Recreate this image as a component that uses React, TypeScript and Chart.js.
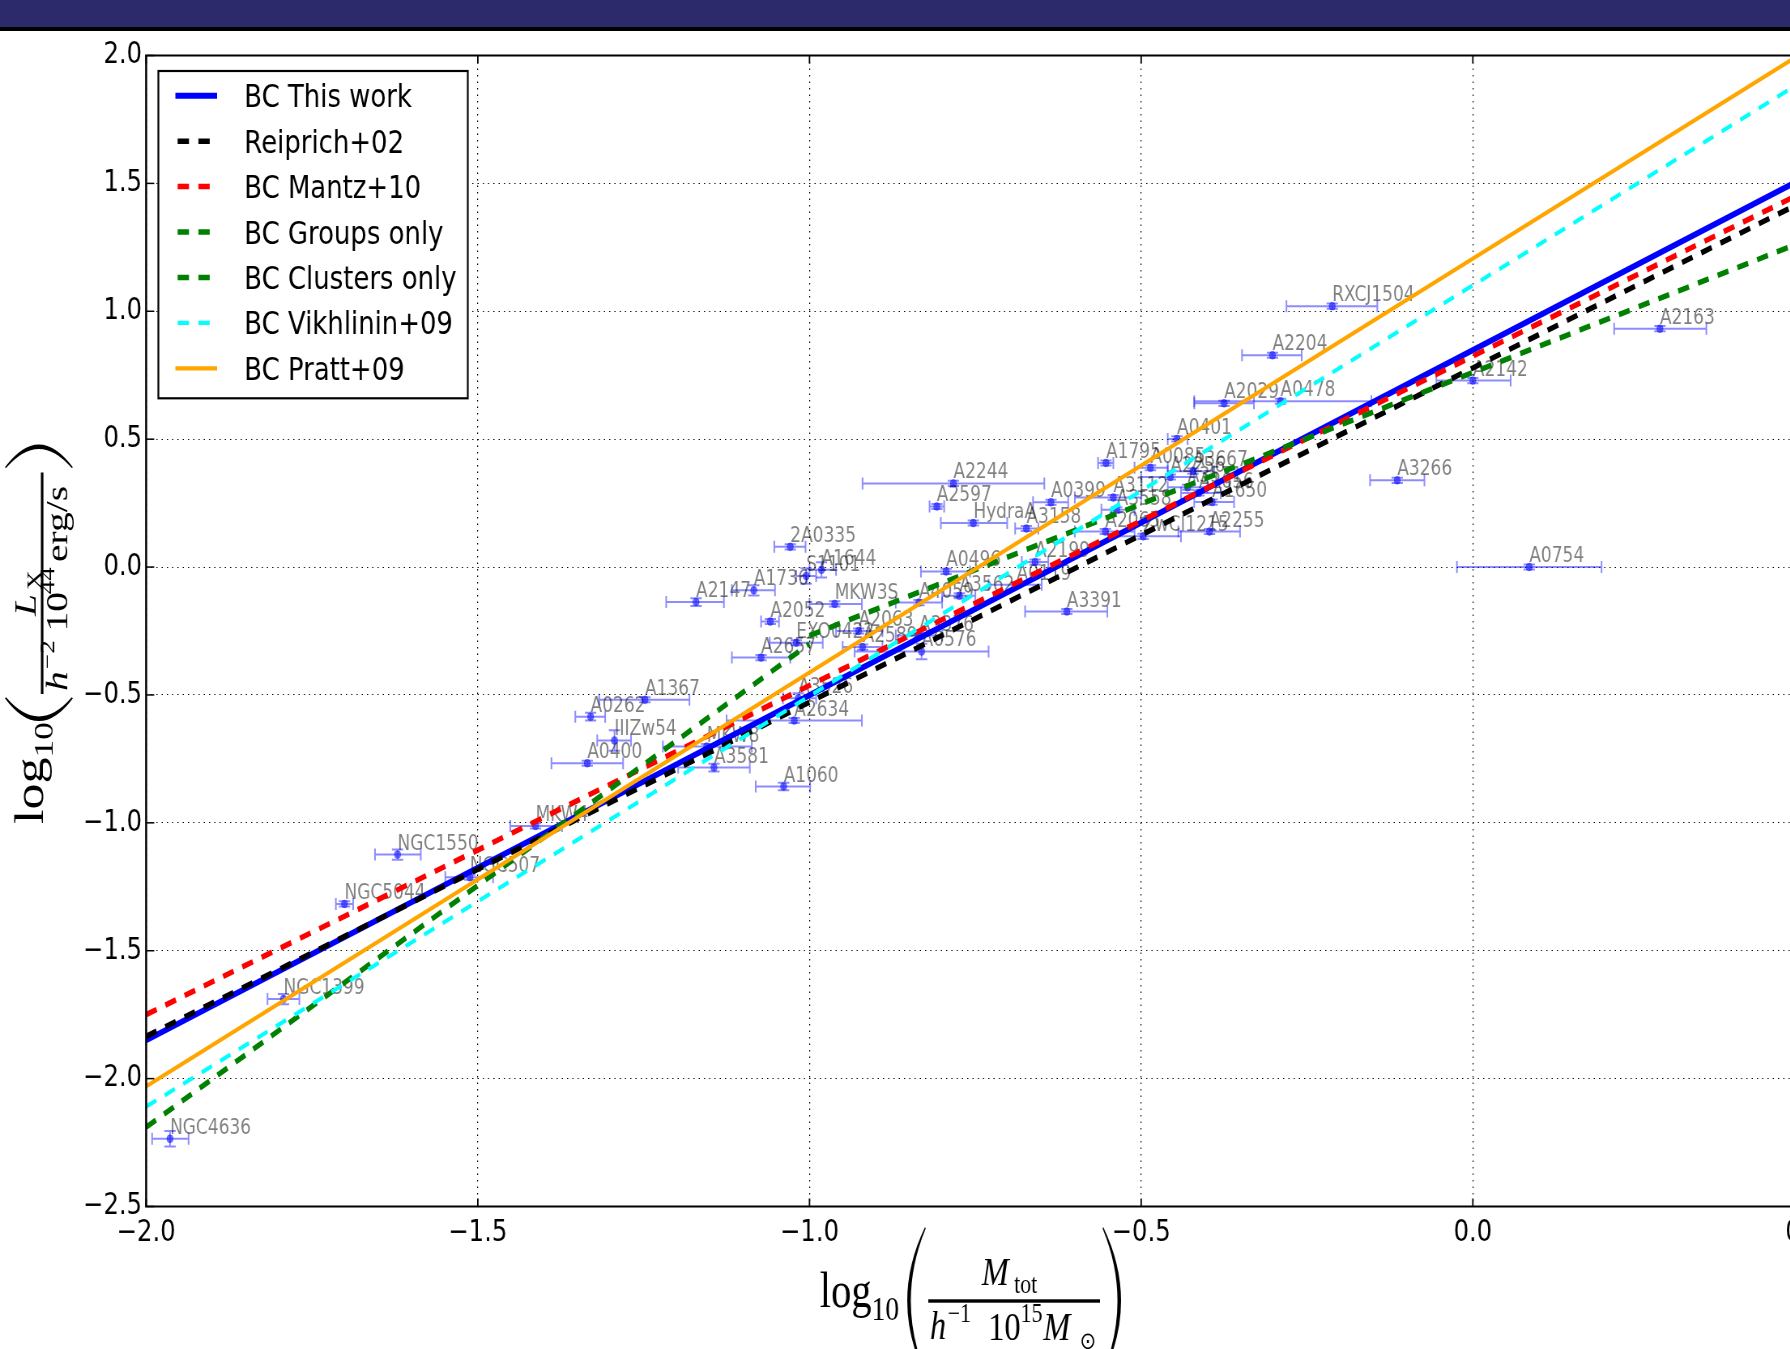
import React, { useEffect, useRef } from "react";
import { Chart, registerables } from "chart.js";

Chart.register(...registerables);

// ---------------- data ----------------
const X_TICKS = [-2.0, -1.5, -1.0, -0.5, 0.0, 0.5];
const Y_TICKS = [-2.5, -2.0, -1.5, -1.0, -0.5, 0.0, 0.5, 1.0, 1.5, 2.0];

const clusterNames = [
  "RXCJ1504", "A2204", "A2163", "A2142", "A2029", "A0478", "A3266", "A0754",
  "A0401", "A1795", "A0085", "A2256", "A3667", "A3571", "A1656", "A1650",
  "A0399", "A3112", "A3558", "HydraA", "A3158", "A2065", "ZwCl1215", "A2255",
  "A2199", "A0119", "A3391", "A2244", "A2597", "A0496", "A4059", "A3562",
  "2A0335", "A1644", "S1101", "A1736", "A2147", "MKW3S", "A2052", "A2063",
  "A3376", "A2589", "EXO0422", "A0576", "A2657", "A1367", "A0262", "IIIZw54",
  "A0400", "MKW8", "A3581", "A3526", "A2634", "A1060", "MKW4", "NGC1550",
  "NGC507", "NGC5044", "NGC1399", "NGC4636",
];
const logMass = [
  -0.212, -0.302, 0.282, 0.0, -0.375, -0.29, -0.114, 0.085,
  -0.446, -0.553, -0.486, -0.456, -0.422, -0.43, -0.413, -0.393,
  -0.636, -0.542, -0.537, -0.753, -0.673, -0.554, -0.497, -0.397,
  -0.66, -0.688, -0.612, -0.783, -0.808, -0.794, -0.835, -0.774,
  -1.029, -0.982, -1.005, -1.084, -1.171, -0.962, -1.059, -0.926,
  -0.835, -0.92, -1.02, -0.831, -1.073, -1.248, -1.33, -1.294,
  -1.335, -1.155, -1.144, -1.017, -1.023, -1.039, -1.413, -1.621,
  -1.512, -1.701, -1.793, -1.964,
];
const logMassLow = [
  -0.281, -0.348, 0.213, -0.055, -0.42, -0.42, -0.155, -0.024,
  -0.46, -0.565, -0.51, -0.5, -0.46, -0.46, -0.44, -0.42,
  -0.663, -0.6, -0.56, -0.802, -0.69, -0.6, -0.55, -0.444,
  -0.68, -0.73, -0.675, -0.92, -0.819, -0.832, -0.87, -0.8,
  -1.053, -1.0, -1.02, -1.117, -1.216, -1.0, -1.073, -0.96,
  -0.87, -0.95, -1.06, -0.932, -1.117, -1.317, -1.353, -1.32,
  -1.389, -1.221, -1.198, -1.04, -1.125, -1.081, -1.451, -1.655,
  -1.549, -1.714, -1.817, -1.991,
];
const logMassHigh = [
  -0.144, -0.258, 0.352, 0.057, -0.33, -0.153, -0.073, 0.194,
  -0.43, -0.542, -0.46, -0.42, -0.39, -0.4, -0.38, -0.36,
  -0.61, -0.5, -0.51, -0.702, -0.655, -0.51, -0.44, -0.351,
  -0.64, -0.65, -0.551, -0.646, -0.797, -0.758, -0.8, -0.75,
  -1.006, -0.96, -0.99, -1.052, -1.129, -0.921, -1.046, -0.89,
  -0.8, -0.89, -0.98, -0.73, -1.029, -1.181, -1.308, -1.269,
  -1.281, -1.087, -1.09, -0.99, -0.921, -0.999, -1.373, -1.586,
  -1.477, -1.688, -1.769, -1.936,
];
const logLum = [
  1.02, 0.828, 0.932, 0.729, 0.64, 0.648, 0.339, 0.0,
  0.501, 0.407, 0.388, 0.352, 0.375, 0.312, 0.29, 0.254,
  0.253, 0.272, 0.224, 0.172, 0.151, 0.139, 0.12, 0.139,
  0.02, -0.069, -0.174, 0.327, 0.237, -0.017, -0.139, -0.112,
  0.079, -0.011, -0.035, -0.091, -0.137, -0.144, -0.213, -0.25,
  -0.268, -0.313, -0.296, -0.33, -0.354, -0.519, -0.585, -0.678,
  -0.767, -0.702, -0.784, -0.513, -0.6, -0.858, -1.012, -1.124,
  -1.213, -1.317, -1.689, -2.235,
];
const logLumErr = [
  0.01, 0.01, 0.01, 0.01, 0.01, 0.01, 0.01, 0.01,
  0.01, 0.01, 0.01, 0.01, 0.01, 0.01, 0.01, 0.01,
  0.01, 0.01, 0.01, 0.01, 0.01, 0.01, 0.01, 0.01,
  0.01, 0.01, 0.01, 0.01, 0.01, 0.01, 0.01, 0.01,
  0.01, 0.03, 0.03, 0.02, 0.015, 0.01, 0.01, 0.01,
  0.01, 0.01, 0.01, 0.03, 0.01, 0.01, 0.015, 0.04,
  0.01, 0.01, 0.015, 0.02, 0.01, 0.015, 0.01, 0.02,
  0.01, 0.01, 0.02, 0.03,
];

const fitNames = [
  "BC This work", "Reiprich+02", "BC Mantz+10", "BC Groups only",
  "BC Clusters only", "BC Vikhlinin+09", "BC Pratt+09",
];
const fitStartX = [-2.0, -2.0, -2.0, -2.0, -1.0, -2.0, -2.0];
const fitStartY = [-1.85, -1.835, -1.75, -2.19, -0.268, -2.11, -2.03];
const fitEndX = [0.5, 0.5, 0.5, -1.0, 0.5, 0.5, 0.5];
const fitEndY = [1.523, 1.432, 1.468, -0.3, 1.275, 1.904, 2.015];

// ---------------- styles ----------------
const fitColors = ["#0000ff", "#000000", "#ff0000", "#008000", "#008000", "#00ffff", "#ffa500"];
const fitWidths = [6, 5.5, 5.5, 5.5, 5.5, 4.2, 4.2];
const fitDashed = [false, true, true, true, true, true, false];

const SQUASH = 0.81;
const CANVAS_W = 2300;
const CANVAS_H = 1349;
const DASH = [14, 11.6];

const fmtTick = (v: number) => {
  const r = Math.round(v * 10) / 10;
  return (r < 0 ? "\u2212" : "") + Math.abs(r).toFixed(1);
};

// ---------------- plugins ----------------
const errorBarPlugin = {
  id: "errorBarsAndLabels",
  beforeDatasetsDraw(chart: any) {
    const ctx = chart.ctx;
    const xs = chart.scales.x;
    const ys = chart.scales.y;
    const pts = chart.data.datasets[0].data;
    ctx.save();
    ctx.strokeStyle = "rgba(0,0,255,0.45)";
    ctx.lineWidth = 2;
    for (const p of pts) {
      const px = xs.getPixelForValue(p.x);
      const py = ys.getPixelForValue(p.y);
      const x0 = xs.getPixelForValue(p.xLo);
      const x1 = xs.getPixelForValue(p.xHi);
      const y0 = ys.getPixelForValue(p.yLo);
      const y1 = ys.getPixelForValue(p.yHi);
      ctx.beginPath();
      ctx.moveTo(x0, py); ctx.lineTo(x1, py);
      ctx.moveTo(x0, py - 6); ctx.lineTo(x0, py + 6);
      ctx.moveTo(x1, py - 6); ctx.lineTo(x1, py + 6);
      ctx.moveTo(px, y0); ctx.lineTo(px, y1);
      ctx.moveTo(px - 7, y0); ctx.lineTo(px + 7, y0);
      ctx.moveTo(px - 7, y1); ctx.lineTo(px + 7, y1);
      ctx.stroke();
    }
    ctx.fillStyle = "rgba(0,0,0,0.5)";
    ctx.font = '21px "DejaVu Sans"';
    ctx.textAlign = "left";
    ctx.textBaseline = "alphabetic";
    for (const p of pts) {
      const px = xs.getPixelForValue(p.x);
      const py = ys.getPixelForValue(p.y);
      ctx.fillText(p.name, px, py - 5);
    }
    ctx.restore();
  },
};

const framePlugin = {
  id: "frameTicks",
  afterDatasetsDraw(chart: any) {
    const ctx = chart.ctx;
    const a = chart.chartArea;
    const xs = chart.scales.x;
    const ys = chart.scales.y;
    ctx.save();
    ctx.strokeStyle = "#000";
    ctx.setLineDash([]);
    const seg = (x0: number, y0: number, x1: number, y1: number) => {
      ctx.beginPath(); ctx.moveTo(x0, y0); ctx.lineTo(x1, y1); ctx.stroke();
    };
    ctx.lineWidth = 1.8;
    for (const v of X_TICKS) {
      const px = xs.getPixelForValue(v);
      seg(px, a.bottom, px, a.bottom - 8);
      seg(px, a.top, px, a.top + 8);
    }
    ctx.lineWidth = 1.5;
    for (const v of Y_TICKS) {
      const py = ys.getPixelForValue(v);
      seg(a.left, py, a.left + 10, py);
      seg(a.right, py, a.right - 10, py);
    }
    ctx.lineWidth = 2;
    seg(a.left - 1.25, a.top, a.right + 1.25, a.top);
    seg(a.left - 1.25, a.bottom, a.right + 1.25, a.bottom);
    ctx.lineWidth = 2.5;
    seg(a.left, a.top, a.left, a.bottom);
    seg(a.right, a.top, a.right, a.bottom);
    ctx.restore();
  },
};

const legendPlugin = {
  id: "boxLegend",
  afterDatasetsDraw(chart: any) {
    const ctx = chart.ctx;
    const L = 195.5, T = 71, R = 577.5, B = 398.3;
    ctx.save();
    ctx.fillStyle = "#fff";
    ctx.fillRect(L, T, R - L, B - T);
    ctx.strokeStyle = "#000";
    ctx.lineWidth = 2.2;
    ctx.setLineDash([]);
    ctx.strokeRect(L, T, R - L, B - T);
    const fits = chart.data.datasets.filter((d: any) => d.isFit);
    fits.forEach((d: any, i: number) => {
      const cy = 95.7 + i * 45.43;
      ctx.beginPath();
      const dashed = d.borderDash && d.borderDash.length > 0;
      ctx.setLineDash(dashed ? d.borderDash : []);
      ctx.lineDashOffset = 0;
      ctx.strokeStyle = d.borderColor;
      ctx.lineWidth = d.borderWidth;
      ctx.lineCap = "butt";
      ctx.moveTo(dashed ? 219.3 : 216.5, cy);
      ctx.lineTo(268, cy);
      ctx.stroke();
      ctx.setLineDash([]);
      ctx.fillStyle = "#000";
      ctx.font = '32px "DejaVu Sans"';
      ctx.textAlign = "left";
      ctx.textBaseline = "alphabetic";
      ctx.fillText(d.label, 301.6, cy + 11.6);
    });
    ctx.restore();
  },
};

type Piece = {
  t?: string; f?: string; u: number; v: number;
  paren?: string; w?: number; h?: number; bar?: number; th?: number;
};

const SERIF = '"Liberation Serif"';

const xTitlePieces: Piece[] = [
  { t: "log", u: 0, v: 6, f: `50px ${SERIF}` },
  { t: "10", u: 64, v: 19, f: `34px ${SERIF}` },
  { paren: "(", u: 108, v: 0, w: 22, h: 74 },
  { bar: 346, u: 134, v: 0, th: 3.4 },
  { t: "M", u: 200, v: -16, f: `italic 40px ${SERIF}` },
  { t: "tot", u: 240, v: -8, f: `27px ${SERIF}` },
  { t: "h", u: 136, v: 38, f: `italic 40px ${SERIF}` },
  { t: "\u22121", u: 158, v: 21, f: `27px ${SERIF}` },
  { t: "10", u: 208, v: 39, f: `40px ${SERIF}` },
  { t: "15", u: 248, v: 21, f: `27px ${SERIF}` },
  { t: "M", u: 276, v: 39, f: `italic 40px ${SERIF}` },
  { t: "\u2299", u: 321, v: 48, f: `24px "DejaVu Sans"` },
  { paren: ")", u: 350, v: 0, w: 22, h: 74 },
];

const yTitlePieces: Piece[] = [
  { t: "log", u: 0, v: 0, f: `50px ${SERIF}` },
  { t: "10", u: 64, v: 12, f: `34px ${SERIF}` },
  { paren: "(", u: 99, v: -5, w: 22, h: 42 },
  { bar: 338, u: 125, v: -1, th: 3.2 },
  { t: "L", u: 200, v: -9, f: `italic 38px ${SERIF}` },
  { t: "X", u: 225, v: -2, f: `26px ${SERIF}` },
  { t: "h", u: 128, v: 30, f: `italic 38px ${SERIF}` },
  { t: "\u22122", u: 149, v: 14, f: `26px ${SERIF}` },
  { t: "10", u: 185, v: 30, f: `38px ${SERIF}` },
  { t: "44", u: 221, v: 14, f: `26px ${SERIF}` },
  { t: "erg/s", u: 252, v: 30, f: `38px ${SERIF}` },
  { paren: ")", u: 343, v: -5, w: 22, h: 42 },
];

function drawParen(ctx: any, kind: string, u: number, c: number, w: number, h: number) {
  const thick = 4;
  ctx.beginPath();
  if (kind === "(") {
    const tip = u + w;
    ctx.moveTo(tip, c - h);
    ctx.quadraticCurveTo(u - w, c, tip, c + h);
    ctx.lineTo(tip + 0.8, c + h - 1.5);
    ctx.quadraticCurveTo(u - w + 2 * thick, c, tip + 0.8, c - h + 1.5);
  } else {
    const tip = u;
    const bulge = u + w;
    ctx.moveTo(tip, c - h);
    ctx.quadraticCurveTo(2 * bulge - tip, c, tip, c + h);
    ctx.lineTo(tip - 0.8, c + h - 1.5);
    ctx.quadraticCurveTo(2 * bulge - tip - 2 * thick, c, tip - 0.8, c - h + 1.5);
  }
  ctx.closePath();
  ctx.fill();
}

function drawPieces(ctx: any, pieces: Piece[]) {
  ctx.fillStyle = "#000";
  ctx.textAlign = "left";
  ctx.textBaseline = "alphabetic";
  for (const p of pieces) {
    if (p.t !== undefined) {
      ctx.font = p.f;
      ctx.fillText(p.t, p.u, p.v);
    } else if (p.paren) {
      drawParen(ctx, p.paren, p.u, p.v, p.w as number, p.h as number);
    } else if (p.bar !== undefined) {
      const th = p.th as number;
      ctx.fillRect(p.u, p.v - th / 2, p.bar - p.u, th);
    }
  }
}

const titlePlugin = {
  id: "mathTitles",
  afterDraw(chart: any) {
    const ctx = chart.ctx;
    ctx.save();
    ctx.translate(1012, 1301);
    drawPieces(ctx, xTitlePieces);
    ctx.restore();
    ctx.save();
    ctx.translate(53, 824);
    ctx.rotate(-Math.PI / 2);
    ctx.scale(1.04, 1);
    drawPieces(ctx, yTitlePieces);
    ctx.restore();
  },
};

// ---------------- component ----------------
export default function App() {
  const canvasRef = useRef<HTMLCanvasElement | null>(null);

  useEffect(() => {
    const canvas = canvasRef.current;
    if (!canvas) return;

    const points = clusterNames.map((name, i) => ({
      name,
      x: logMass[i],
      y: logLum[i],
      xLo: logMassLow[i],
      xHi: logMassHigh[i],
      yLo: logLum[i] - logLumErr[i],
      yHi: logLum[i] + logLumErr[i],
    }));

    const fitDatasets = fitNames.map((label, i) => ({
      label,
      isFit: true,
      data: [
        { x: fitStartX[i], y: fitStartY[i] },
        { x: fitEndX[i], y: fitEndY[i] },
      ],
      showLine: true,
      borderColor: fitColors[i],
      backgroundColor: fitColors[i],
      borderWidth: fitWidths[i],
      borderDash: fitDashed[i] ? DASH : [],
      borderCapStyle: "butt",
      pointRadius: 0,
      pointHoverRadius: 0,
      fill: false,
      tension: 0,
      clip: 0,
      order: 7 - i,
    }));

    const chart = new Chart(canvas, {
      type: "scatter",
      data: {
        datasets: [
          {
            label: "clusters",
            data: points as any,
            pointRadius: 4,
            pointBackgroundColor: "rgba(0,0,255,0.55)",
            pointBorderColor: "rgba(0,0,255,0.55)",
            pointBorderWidth: 0.5,
            order: 20,
          } as any,
          ...(fitDatasets as any),
        ],
      },
      options: {
        responsive: false,
        animation: false,
        devicePixelRatio: 1,
        events: [],
        layout: { padding: { left: 40.4, top: 55.5, right: 72.2, bottom: 82.5 } },
        plugins: {
          legend: { display: false },
          tooltip: { enabled: false },
          title: { display: false },
        },
        scales: {
          x: {
            type: "linear",
            min: -2.0,
            max: 0.5,
            afterBuildTicks: (s: any) => {
              s.ticks = X_TICKS.map((v) => ({ value: v }));
            },
            afterFit: (s: any) => {
              s.height = 60;
            },
            ticks: {
              autoSkip: false,
              maxRotation: 0,
              padding: 8.5,
              color: "#000",
              font: { family: "DejaVu Sans", size: 30 },
              callback: (v: any) => fmtTick(Number(v)),
            },
            grid: { color: "#000", lineWidth: 1.2, drawTicks: false },
            border: { display: false, dash: [1.5, 5] },
          },
          y: {
            type: "linear",
            min: -2.5,
            max: 2.0,
            afterBuildTicks: (s: any) => {
              s.ticks = Y_TICKS.map((v) => ({ value: v }));
            },
            afterFit: (s: any) => {
              s.width = 140;
            },
            ticks: {
              autoSkip: false,
              padding: 5,
              color: "#000",
              font: { family: "DejaVu Sans", size: 30 },
              callback: (v: any) => fmtTick(Number(v)),
            },
            grid: { color: "#000", lineWidth: 1, drawTicks: false },
            border: { display: false, dash: [1.5, 5] },
          },
        },
      } as any,
      plugins: [errorBarPlugin, framePlugin, legendPlugin, titlePlugin] as any,
    });

    return () => chart.destroy();
  }, []);

  return (
    <div
      style={{
        position: "fixed",
        left: 0,
        top: 0,
        width: 1790,
        height: 1349,
        overflow: "hidden",
        background: "#ffffff",
      }}
    >
      <div
        style={{
          position: "absolute",
          left: 0,
          top: 0,
          width: CANVAS_W,
          height: CANVAS_H,
          transform: `scaleX(${SQUASH})`,
          transformOrigin: "0 0",
        }}
      >
        <canvas
          ref={canvasRef}
          width={CANVAS_W}
          height={CANVAS_H}
          style={{ display: "block", width: CANVAS_W, height: CANVAS_H }}
        />
      </div>
      <div style={{ position: "absolute", left: 0, top: 0, width: 1790, height: 27, background: "#2c2a6a" }} />
      <div style={{ position: "absolute", left: 0, top: 27, width: 1790, height: 4, background: "#000" }} />
    </div>
  );
}
